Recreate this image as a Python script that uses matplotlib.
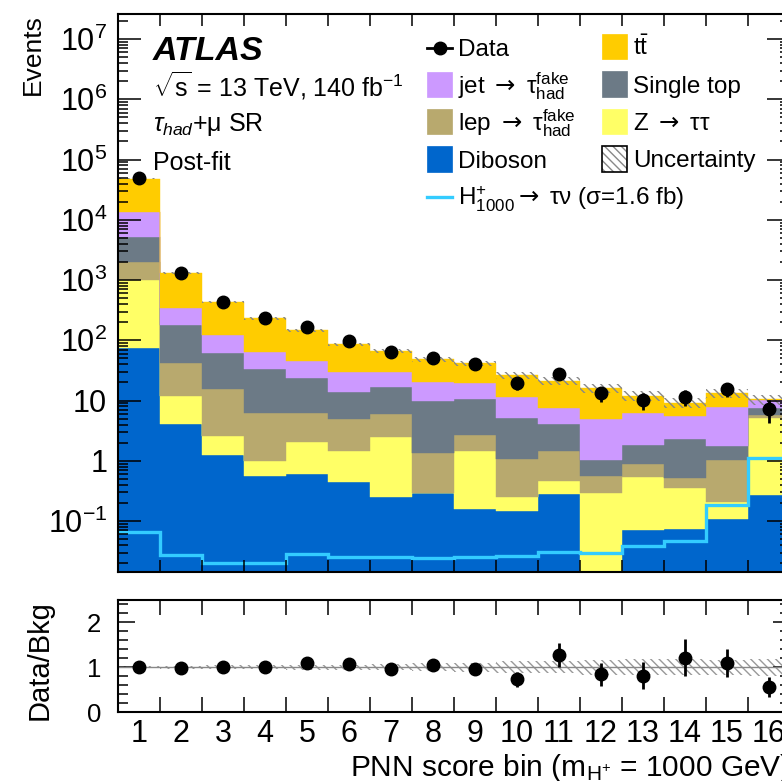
"""
ATLAS H+ -> tau nu, tau_had + mu SR, post-fit PNN score distribution
"""
import numpy as np
import matplotlib
matplotlib.use('Agg')
import matplotlib.pyplot as plt
from matplotlib.patches import Rectangle
from matplotlib.lines import Line2D
from matplotlib.ticker import LogLocator, NullFormatter, MultipleLocator

plt.rcParams['font.family'] = ['Liberation Sans', 'DejaVu Sans']
plt.rcParams['mathtext.fontset'] = 'custom'
plt.rcParams['mathtext.rm'] = 'Liberation Sans'
plt.rcParams['mathtext.it'] = 'Liberation Sans:italic'
plt.rcParams['mathtext.bf'] = 'Liberation Sans:bold'
plt.rcParams['mathtext.sf'] = 'DejaVu Sans'   # used for the arrows only
plt.rcParams['mathtext.default'] = 'regular'
plt.rcParams['hatch.linewidth'] = 1.0

# --- data ---
bins = np.arange(1, 17)
edges = np.arange(0.5, 17.0, 1.0)

diboson = [75, 4.1, 1.25, 0.57, 0.60, 0.45, 0.25, 0.29, 0.16, 0.145, 0.28, 0.008, 0.070, 0.074, 0.11, 0.27]
ztautau = [925, 7.9, 1.33, 0.43, 1.42, 0.99, 2.23, 0.0, 1.28, 0.105, 0.18, 0.28, 0.46, 0.275, 0.10, 4.79]
lepfake = [970, 29.4, 13.1, 5.3, 4.3, 3.5, 3.56, 1.04, 1.2, 0.82, 0.98, 0.27, 0.36, 0.17, 0.82, 0.68]
singletop = [3230, 140, 45, 26.7, 17.6, 9.1, 10.7, 8.6, 8.0, 4.1, 2.7, 0.47, 0.91, 1.78, 0.75, 1.86]
jetfake = [8300, 158, 60, 30, 21.9, 15.7, 13.3, 10.1, 8.7, 6.2, 3.4, 3.96, 4.34, 3.23, 6.0, 2.6]
ttbar = [34500, 981, 306, 168, 102, 56, 37, 28.3, 22.1, 15.1, 13.7, 10.9, 5.86, 3.67, 5.7, 0.3]

data = [50000, 1330, 430, 232, 164, 97, 63, 50, 41, 19.3, 27.5, 13.2, 10.2, 11.6, 15.5, 7.2]
data_err = [224, 36, 21, 15, 13, 10, 8, 7, 6.4, 4.4, 5.2, 3.6, 3.2, 3.4, 3.9, 2.9]
signal = [0.0665, 0.0273, 0.0203, 0.0203, 0.028, 0.0256, 0.0249, 0.024, 0.0256, 0.0266,
          0.0302, 0.029, 0.0385, 0.0466, 0.185, 1.1]
syst_rel = [0.02, 0.03, 0.04, 0.05, 0.06, 0.06, 0.07, 0.09, 0.10, 0.13, 0.14, 0.17, 0.18, 0.18, 0.17, 0.19]

ratio = [1.0, 0.99, 1.0, 1.0, 1.10, 1.07, 0.95, 1.05, 0.96, 0.73, 1.27, 0.84, 0.81, 1.21, 1.10, 0.56]
ratio_err = [0.005, 0.03, 0.05, 0.07, 0.08, 0.1, 0.12, 0.12, 0.13, 0.17, 0.26, 0.25, 0.30, 0.41, 0.31, 0.23]

ylabels = [r'$10^{-1}$', '1', '10', r'$10^{2}$', r'$10^{3}$', r'$10^{4}$',
           r'$10^{5}$', r'$10^{6}$', r'$10^{7}$']

C_TT = '#ffcc00'
C_JET = '#cc99ff'
C_ST = '#6c7a86'
C_LEP = '#b8a96e'
C_Z = '#ffff66'
C_VV = '#0066cc'
C_SIG = '#33ccff'

W, H = 782, 781
ARROW = r'$\mathsf{\rightarrow}$'


def fx(px):
    return px / W


def fy(py):
    return 1 - py / H


fig = plt.figure(figsize=(W / 100, H / 100), dpi=100)
ax = fig.add_axes([fx(118.3), fy(572), (789.6 - 118.3) / W, (572 - 14) / H])
rx = fig.add_axes([fx(118.3), fy(712), (789.6 - 118.3) / W, (712 - 600) / H])

# --- stacked backgrounds ---
stack = [(diboson, C_VV), (ztautau, C_Z), (lepfake, C_LEP),
         (singletop, C_ST), (jetfake, C_JET), (ttbar, C_TT)]
cum = np.zeros(len(bins))
for vals, col in stack:
    top = cum + np.array(vals)
    ax.stairs(np.maximum(top, 1e-4), edges, baseline=np.maximum(cum, 1e-4),
              fill=True, facecolor=col, edgecolor=col, lw=0.3)
    cum = top
total = cum

unc = np.array(syst_rel)
ax.stairs(total * (1 + unc), edges, baseline=total * (1 - unc), fill=True,
          facecolor='none', edgecolor='#888888', hatch='\\\\\\\\', lw=0)
ax.stairs(signal, edges, baseline=None, color=C_SIG, lw=2.4)
ax.errorbar(bins, data, yerr=data_err, fmt='o', color='black', ms=9,
            elinewidth=2, capsize=0, zorder=5)

ax.set_xlim(0.5, 16.5)
ax.set_yscale('log')
ax.set_ylim(0.0143, 2.6e7)
ax.set_xticks(edges[1:-1])
ax.tick_params(axis='x', which='both', direction='in', top=True, bottom=True,
               length=8.6, width=1.1, labelbottom=False)
ax.set_yticks([10.0 ** k for k in range(-1, 8)], labels=ylabels)
ax.yaxis.set_minor_locator(LogLocator(base=10, subs=np.arange(2, 10), numticks=30))
ax.yaxis.set_minor_formatter(NullFormatter())
ax.tick_params(axis='y', which='major', direction='in', left=True, right=True,
               length=16.5, width=1.1, labelsize=22, pad=8)
ax.tick_params(axis='y', which='minor', direction='in', left=True, right=True,
               length=7.5, width=1.1)

# --- ratio panel ---
rx.stairs(1 + unc, edges, baseline=1 - unc, fill=True, facecolor='none',
          edgecolor='#999999', hatch='\\\\\\\\', lw=0)
rx.axhline(1, color='#888888', lw=1)
rx.errorbar(bins, ratio, yerr=ratio_err, fmt='o', color='black', ms=9,
            elinewidth=2, capsize=0, zorder=5)
rx.set_xlim(0.5, 16.5)
rx.set_ylim(0, 2.5)
rx.set_xticks(edges[1:-1])
rx.set_xticks(bins, labels=[str(b) for b in bins], minor=True)
rx.tick_params(axis='x', which='major', direction='in', top=True, bottom=True,
               length=11, width=1.1, labelbottom=False)
rx.tick_params(axis='x', which='minor', length=0, labelsize=22, pad=5)
rx.set_yticks([0, 1, 2])
rx.yaxis.set_minor_locator(MultipleLocator(0.2))
rx.tick_params(axis='y', which='major', direction='in', left=True, right=True,
               length=12, width=1.1, labelsize=18.5, pad=12.5)
rx.tick_params(axis='y', which='minor', direction='in', left=True, right=True,
               length=7, width=1.1)

for a in (ax, rx):
    for s in a.spines.values():
        s.set_linewidth(1.5)

# --- axis titles ---
fig.text(fx(33), fy(14), 'Events', rotation=90, ha='center', va='top', fontsize=19)
fig.text(fx(40), fy(600), 'Data/Bkg', rotation=90, ha='center', va='top', fontsize=21)
fig.text(fx(789.6), fy(776.5), r'PNN score bin (m$_{\mathrm{H^{+}}}$ = 1000 GeV)',
         ha='right', va='baseline', fontsize=21.5)

# --- ATLAS label ---
fig.text(fx(153), fy(60), 'ATLAS', fontsize=24.5, fontweight='bold', fontstyle='italic', va='baseline')
fig.text(fx(153), fy(97), r'$\sqrt{s}$ = 13 TeV, 140 fb$^{-1}$', fontsize=18, va='baseline')
fig.text(fx(153), fy(131), r'$\mathit{\tau}_{\mathit{had}}$+$\mu$ SR', fontsize=18, va='baseline')
fig.text(fx(153), fy(170), 'Post-fit', fontsize=18, va='baseline')

# --- legend, drawn by hand in ROOT TLegend style ---
LEG_FS = 17.5
BOX = 25


def box_entry(x, yc, color, label, hatch=None):
    if hatch:
        fig.add_artist(Rectangle((fx(x), fy(yc + BOX / 2)), BOX / W, BOX / H,
                                 transform=fig.transFigure, facecolor='white',
                                 edgecolor='#888888', hatch=hatch, lw=0))
        fig.add_artist(Rectangle((fx(x), fy(yc + BOX / 2)), BOX / W, BOX / H,
                                 transform=fig.transFigure, fill=False,
                                 edgecolor='black', lw=1.2))
    else:
        fig.add_artist(Rectangle((fx(x), fy(yc + BOX / 2)), BOX / W, BOX / H,
                                 transform=fig.transFigure, facecolor=color,
                                 edgecolor=color, lw=0.5))
    fig.text(fx(x + 31), fy(yc + 8.5), label, fontsize=LEG_FS, va='baseline')


x1, x2 = 427, 602
fig.add_artist(Line2D([fx(x1), fx(x1 + BOX / 2), fx(x1 + BOX)], [fy(48)] * 3,
                      transform=fig.transFigure, color='black', lw=2,
                      marker='o', ms=9, markevery=[1]))
fig.text(fx(x1 + 31), fy(48 + 8.5), 'Data', fontsize=LEG_FS, va='baseline')
box_entry(x1, 84.5, C_JET, 'jet ' + ARROW + r' $\tau_{had}^{fake}$')
box_entry(x1, 121.5, C_LEP, 'lep ' + ARROW + r' $\tau_{had}^{fake}$')
box_entry(x1, 159, C_VV, 'Diboson')
fig.add_artist(Line2D([fx(x1), fx(x1 + BOX)], [fy(196.5)] * 2,
                      transform=fig.transFigure, color=C_SIG, lw=2.4))
fig.text(fx(x1 + 31), fy(196.5 + 8.5),
         r'H$^{+}_{1000}$' + ARROW + r' $\tau\nu$ ($\sigma$=1.6 fb)',
         fontsize=LEG_FS, va='baseline')

box_entry(x2, 46.7, C_TT, r't$\bar{\mathrm{t}}$')
box_entry(x2, 84, C_ST, 'Single top')
box_entry(x2, 121.5, C_Z, 'Z ' + ARROW + r' $\tau\tau$')
box_entry(x2, 159, None, 'Uncertainty', hatch='\\\\\\\\')

fig.savefig('out.png', dpi=100)
